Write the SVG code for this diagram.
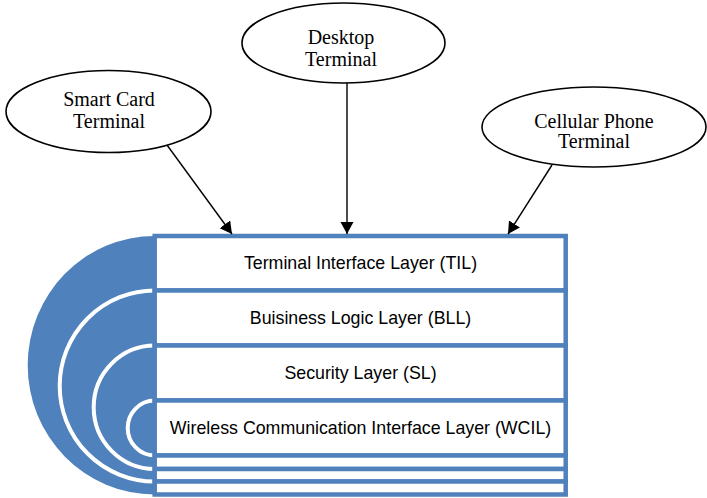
<svg xmlns="http://www.w3.org/2000/svg" width="707" height="498" viewBox="0 0 707 498">
<defs>
<style>
.term ellipse{fill:#fff;stroke:#000;stroke-width:1.6}
.term text{font-family:"Liberation Serif","Times New Roman",serif;font-size:20px;fill:#000;text-anchor:middle}
.row rect{fill:#fff;stroke:#4F81BD;stroke-width:4.5}
.row text{font-family:"Liberation Sans",Arial,sans-serif;font-size:17.8px;fill:#000;text-anchor:middle}
.ring{fill:#4F81BD;stroke:#fff;stroke-width:4}
.conn line{stroke:#000;stroke-width:1.4}
</style>
<marker id="ah" markerUnits="userSpaceOnUse" markerWidth="14" markerHeight="14" refX="12" refY="6.5" orient="auto">
<path d="M0,0 L12,6.5 L0,13 Z" fill="#000"/>
</marker>
</defs>

<g id="rings">
<path d="M154.7 236 A127 129.25 0 0 0 154.7 494.5 Z" fill="#4F81BD"/>
<path class="ring" d="M154.7 290.5 A95 95.5 0 0 0 154.7 481.5"/>
<path class="ring" d="M154.7 345.5 A61 61.75 0 0 0 154.7 469"/>
<path class="ring" d="M154.7 400.5 A27 27.5 0 0 0 154.7 455.5"/>
</g>

<g id="layers">
<g id="til" class="row"><rect x="154.7" y="236" width="411" height="54.5"/><text x="360.5" y="269">Terminal Interface Layer (TIL)</text></g>
<g id="bll" class="row"><rect x="154.7" y="290.5" width="411" height="55"/><text x="360.5" y="324">Buisiness Logic Layer (BLL)</text></g>
<g id="sl" class="row"><rect x="154.7" y="345.5" width="411" height="55"/><text x="360.5" y="379">Security Layer (SL)</text></g>
<g id="wcil" class="row"><rect x="154.7" y="400.5" width="411" height="55"/><text x="360.5" y="434">Wireless Communication Interface Layer (WCIL)</text></g>
<g id="l5" class="row"><rect x="154.7" y="455.5" width="411" height="13.5"/></g>
<g id="l6" class="row"><rect x="154.7" y="469" width="411" height="12.5"/></g>
<g id="l7" class="row"><rect x="154.7" y="481.5" width="411" height="13"/></g>
</g>

<g id="smartcard" class="term">
<ellipse cx="108.5" cy="111.5" rx="102.5" ry="41"/>
<text x="109" y="106">Smart Card</text>
<text x="109" y="127.5">Terminal</text>
</g>
<g id="desktop" class="term">
<ellipse cx="343.5" cy="43" rx="101.5" ry="40"/>
<text x="341" y="44">Desktop</text>
<text x="341" y="66">Terminal</text>
</g>
<g id="cellular" class="term">
<ellipse cx="594" cy="127" rx="112" ry="40"/>
<text x="594" y="127.5">Cellular Phone</text>
<text x="594" y="148">Terminal</text>
</g>

<g id="connectors" class="conn">
<line x1="167" y1="145" x2="232" y2="234" marker-end="url(#ah)"/>
<line x1="347" y1="83" x2="347" y2="234" marker-end="url(#ah)"/>
<line x1="552" y1="165" x2="508" y2="234" marker-end="url(#ah)"/>
</g>
</svg>
